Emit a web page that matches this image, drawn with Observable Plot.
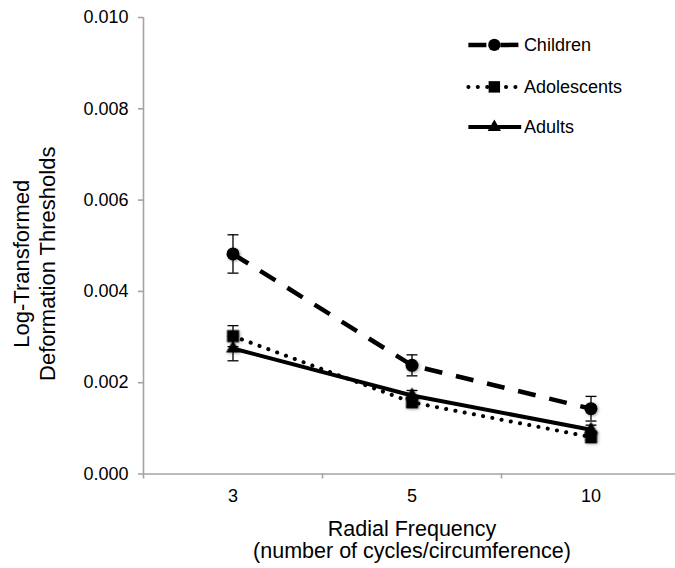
<!DOCTYPE html>
<html><head><meta charset="utf-8">
<script src="https://cdn.jsdelivr.net/npm/d3@7"></script>
<script src="https://cdn.jsdelivr.net/npm/@observablehq/plot@0.6"></script>
<style>body{margin:0;background:#fff}</style>
</head><body><div id="chart"></div>
<script>
// ---- data ----
const frequencies = ["3", "5", "10"];
const groups = ["Children", "Adolescents", "Adults"];
const children = [0.00482, 0.00238, 0.00143];
const childrenErr = [0.00042, 0.00023, 0.00027];
const adolescents = [0.00302, 0.00157, 0.00081];
const adolescentsErr = [0.00023, 0.00010, 0.00012];
const adults = [0.00275, 0.00172, 0.00097];
const adultsErr = [0.00027, 0.00011, 0.00010];
const yTicks = [0, 0.002, 0.004, 0.006, 0.008, 0.010];
const xTitle = ["Radial Frequency", "(number of cycles/circumference)"];
const yTitle = "Log-Transformed\nDeformation Thresholds";

// ---- build table ----
const seriesValues = {Children: [children, childrenErr], Adolescents: [adolescents, adolescentsErr], Adults: [adults, adultsErr]};
const rows = groups.flatMap(g => frequencies.map((f, i) => ({
  group: g, freq: f, pos: i + 0.5, value: seriesValues[g][0][i], err: seriesValues[g][1][i]
})));

// ---- styles ----
const gray = "#a3a3a3";
const style = {
  Children:    {symbol: "circle",   r: 6.5, dash: "18,14",   cap: "butt",  width: 4.5},
  Adolescents: {symbol: "square",   r: 6.8, dash: "0.1,9.3", cap: "round", width: 4},
  Adults:      {symbol: "triangle", r: 5.2, dash: null,      cap: "butt",  width: 4}
};
const capSymbol = {draw(context, size) { const r = Math.sqrt(size / Math.PI); context.moveTo(-r, 0); context.lineTo(r, 0); }};
const shadow = "drop-shadow(1px 1px 1.5px rgba(0,0,0,0.35))";

// legend layout (in scale units)
const legendX1 = 1.815, legendX2 = 2.11, legendXm = 1.96, legendXt = 2.125;
const legendY = [0.0094, 0.00848, 0.0076];

const marks = [];
// axis lines
marks.push(Plot.ruleY([0], {stroke: gray, strokeWidth: 1.6}));
marks.push(Plot.ruleX([0], {y1: 0, y2: 0.010, stroke: gray, strokeWidth: 1.6}));
marks.push(Plot.axisY(yTicks, {tickFormat: d3.format(".3f"), tickSize: 5, tickPadding: 10, stroke: gray, strokeWidth: 1.6, fill: "black", fontSize: 18, label: null}));
marks.push(Plot.axisX([0, 1, 2, 3], {tickFormat: () => "", tickSize: 5, stroke: gray, strokeWidth: 1.6, label: null}));
marks.push(Plot.axisX([0.5, 1.5, 2.5], {tickFormat: d => frequencies[Math.floor(d)], tickSize: 0, tickPadding: 15, fill: "black", fontSize: 18, label: null}));

// series
for (const g of groups) {
  const s = style[g];
  const data = rows.filter(d => d.group === g);
  marks.push(Plot.line(data, {x: "pos", y: "value", stroke: "black", strokeWidth: s.width, strokeDasharray: s.dash, strokeLinecap: s.cap}));
}
for (const g of groups) {
  const s = style[g];
  const data = rows.filter(d => d.group === g);
  marks.push(Plot.dot(data, {x: "pos", y: "value", symbol: s.symbol, r: s.r, fill: "black", stroke: "none", imageFilter: shadow}));
}
// error bars
marks.push(Plot.ruleX(rows, {x: "pos", y1: d => d.value - d.err, y2: d => d.value + d.err, stroke: "black", strokeWidth: 1.3}));
marks.push(Plot.dot(rows, {x: "pos", y: d => d.value + d.err, symbol: capSymbol, r: 5.5, stroke: "black", fill: "none", strokeWidth: 1.3}));
marks.push(Plot.dot(rows, {x: "pos", y: d => d.value - d.err, symbol: capSymbol, r: 5.5, stroke: "black", fill: "none", strokeWidth: 1.3}));

// legend
groups.forEach((g, k) => {
  const s = style[g];
  marks.push(Plot.line([{x: legendX1, y: legendY[k]}, {x: legendX2, y: legendY[k]}], {x: "x", y: "y", stroke: "black", strokeWidth: s.width, strokeDasharray: s.dash, strokeLinecap: s.cap}));
  marks.push(Plot.dot([{x: legendXm, y: legendY[k]}], {x: "x", y: "y", symbol: s.symbol, r: s.r * 0.95, fill: "black", stroke: "none"}));
  marks.push(Plot.text([g], {x: legendXt, y: legendY[k], text: d => d, textAnchor: "start", fontSize: 18, fill: "black"}));
});

// axis titles
marks.push(Plot.text([xTitle[0]], {frameAnchor: "bottom", text: d => d, lineAnchor: "bottom", dy: 62, dx: 2.5, fontSize: 21.5, fill: "black"}));
marks.push(Plot.text([xTitle[1]], {frameAnchor: "bottom", text: d => d, lineAnchor: "bottom", dy: 84, dx: 2.5, fontSize: 21.5, fill: "black"}));
marks.push(Plot.text([yTitle], {frameAnchor: "left", text: d => d, rotate: -90, textAnchor: "middle", dx: -109.7, dy: 18, fontSize: 22, lineHeight: 1.18, fill: "black"}));

const chart = Plot.plot({
  width: 675, height: 568,
  marginLeft: 143, marginRight: 0, marginTop: 17, marginBottom: 94.5,
  style: {fontFamily: "'Liberation Sans', Arial, Helvetica, sans-serif", background: "white", overflow: "hidden"},
  x: {type: "linear", domain: [0, 3], range: [143, 680], axis: null},
  y: {domain: [0, 0.010], range: [473.5, 17], axis: null},
  marks
});
document.getElementById("chart").appendChild(chart);
</script>
</body></html>
